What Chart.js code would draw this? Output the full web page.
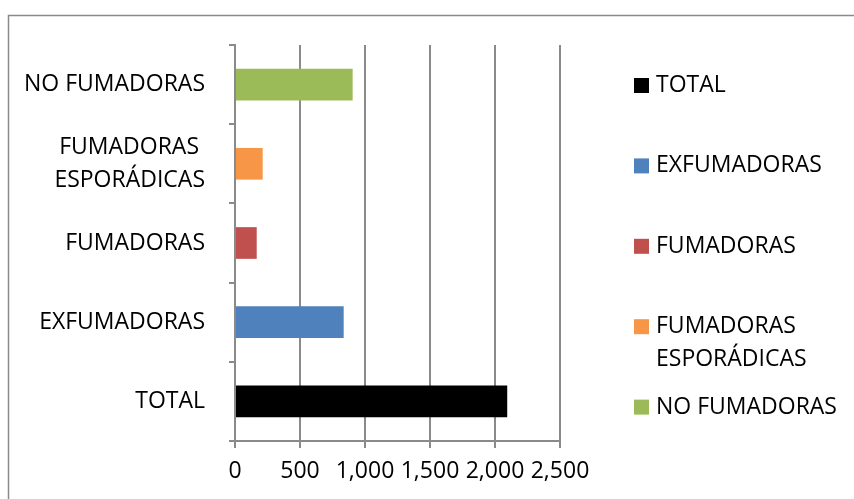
<!DOCTYPE html>
<html>
<head>
<meta charset="utf-8">
<script src="https://cdn.jsdelivr.net/npm/chart.js@4"></script>
<style>
  html, body { margin: 0; padding: 0; background: #fff; }
  #wrap { width: 854px; height: 499px; position: relative; }
</style>
</head>
<body>
<div id="wrap"><canvas id="myChart" width="854" height="499"></canvas></div>
<script>
// categories bottom to top, as in the original
const categories = ['TOTAL', 'EXFUMADORAS', 'FUMADORAS', ['FUMADORAS ', 'ESPORÁDICAS'], 'NO FUMADORAS'];
const values = [2094, 836, 167, 213, 905];
const colors = ['#000000', '#4F81BD', '#C0504D', '#F79646', '#9BBB59'];
const xTicks = [0, 500, 1000, 1500, 2000, 2500];

const FONT = "'Open Sans', sans-serif";
const GRID = '#8a8a8a';

// one dataset per category so each gets its own legend entry
const datasets = categories.map(function (c, i) {
    return {
        label: Array.isArray(c) ? c.map(s => s.trim()).join(' ') : c,
        legendLines: Array.isArray(c) ? c.map(s => s.trim()) : [c],
        data: categories.map((_, j) => j === i ? values[i] : null),
        backgroundColor: colors[i],
        borderWidth: 0,
        categoryPercentage: 0.4,
        barPercentage: 1
    };
});

// frame + legend on the right, Excel style
const sideLegend = {
    id: 'sideLegend',
    beforeDraw(chart) {
        const ctx = chart.ctx;
        ctx.save();
        ctx.strokeStyle = GRID;
        ctx.lineWidth = 1.5;
        ctx.beginPath();
        ctx.moveTo(8.5, 499);
        ctx.lineTo(8.5, 15.5);
        ctx.lineTo(854, 15.5);
        ctx.stroke();
        ctx.restore();
    },
    afterDraw(chart) {
        const ctx = chart.ctx;
        const x = chart.chartArea.right + 74;
        let y = chart.chartArea.top + 40.5;
        ctx.save();
        ctx.font = '23px ' + FONT;
        ctx.textBaseline = 'middle';
        ctx.textAlign = 'left';
        chart.data.datasets.forEach(function (ds) {
            ctx.fillStyle = ds.backgroundColor;
            ctx.fillRect(x, y - 7.5, 15, 15);
            ctx.fillStyle = '#000';
            ds.legendLines.forEach(function (line, k) {
                ctx.fillText(line, x + 22, y + k * 33);
            });
            y += 80.4;
        });
        ctx.restore();
    }
};

const myChart = document.getElementById('myChart').getContext('2d');

let smokeChart = new Chart(myChart, {
    type: 'bar',
    data: {
        labels: categories,
        datasets: datasets
    },
    options: {
        indexAxis: 'y',
        responsive: false,
        animation: false,
        layout: { padding: { top: 45, right: 294, left: 0, bottom: 0 } },
        plugins: {
            legend: { display: false },
            tooltip: { enabled: false }
        },
        scales: {
            x: {
                stacked: true,
                min: 0,
                max: 2500,
                afterBuildTicks(scale) {
                    scale.ticks = xTicks.map(v => ({ value: v }));
                },
                afterFit(scale) { scale.height = 58; },
                grid: {
                    color: GRID,
                    lineWidth: 2,
                    tickLength: 7,
                    drawOnChartArea: true
                },
                border: { color: GRID, width: 2 },
                ticks: {
                    autoSkip: false,
                    maxRotation: 0,
                    padding: 10,
                    color: '#000',
                    font: { family: FONT, size: 23 }
                }
            },
            y: {
                stacked: true,
                reverse: true,
                afterFit(scale) { scale.width = 235; },
                grid: {
                    offset: true,
                    drawOnChartArea: false,
                    color: GRID,
                    lineWidth: 2,
                    tickLength: 6
                },
                border: { color: GRID, width: 2 },
                ticks: {
                    padding: 24,
                    color: '#000',
                    font: { family: FONT, size: 23, lineHeight: 1.43 }
                }
            }
        }
    },
    plugins: [sideLegend]
});
</script>
</body>
</html>
